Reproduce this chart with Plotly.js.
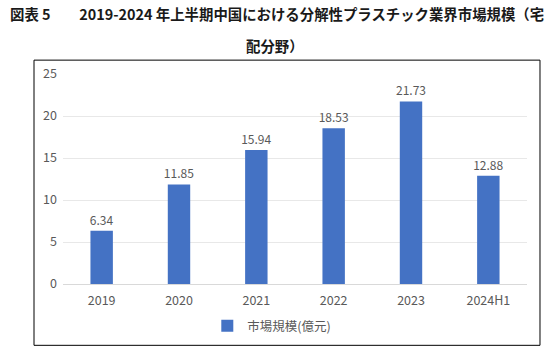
<!DOCTYPE html>
<html>
<head>
<meta charset="utf-8">
<script src="https://cdn.plot.ly/plotly-3.0.1.min.js"></script>
<style>html,body{margin:0;padding:0;background:#fff;}</style>
</head>
<body>
<div id="chart" style="width:559px;height:353px;"></div>
<script>
const categories = ["2019", "2020", "2021", "2022", "2023", "2024H1"];
const marketSize = [6.34, 11.85, 15.94, 18.53, 21.73, 12.88];
const seriesName = "市場規模(億元)";
const yTicks = [0, 5, 10, 15, 20, 25];

const font = "'Noto Sans CJK JP', 'Noto Sans', sans-serif";
const grey = "#595959";

const trace = {
  type: "bar",
  x: categories,
  y: marketSize,
  name: seriesName,
  marker: { color: "#4472C4" },
  width: 0.29,
  text: marketSize.map(v => v.toFixed(2)),
  textposition: "outside",
  constraintext: "none",
  textfont: { family: font, size: 12, color: grey },
  cliponaxis: false
};

const layout = {
  width: 559, height: 353,
  margin: { l: 63, r: 32, t: 74, b: 67 },
  paper_bgcolor: "#fff", plot_bgcolor: "#fff",
  font: { family: font, color: grey, size: 12 },
  showlegend: true,
  legend: {
    orientation: "h", x: 0.45, xanchor: "center", y: -0.2, yanchor: "middle",
    font: { family: font, size: 12.5, color: grey },
    itemwidth: 30
  },
  xaxis: {
    type: "category",
    tickfont: { family: font, size: 12.5, color: grey },
    showline: true, linecolor: "#D9D9D9", linewidth: 1,
    ticks: "", fixedrange: true,
    ticklabelstandoff: 5
  },
  yaxis: {
    range: [0, 25], tickvals: yTicks,
    tickfont: { family: font, size: 12.5, color: grey },
    gridcolor: "#E8E8E8", gridwidth: 1,
    zeroline: false, showline: false, ticks: "",
    ticklabelstandoff: 5
  },
  shapes: [{
    type: "rect", xref: "paper", yref: "paper",
    x0: -0.0625, x1: 1.028, y0: -0.292, y1: 1.066,
    line: { color: "#000", width: 1 }, fillcolor: "rgba(0,0,0,0)"
  }],
  annotations: [
    {
      xref: "paper", yref: "paper", x: (8 - 63) / 464, xanchor: "left",
      y: (286 - 13) / 212, yanchor: "middle",
      text: "<b>図表 5　　2019-2024 年上半期中国における分解性プラスチック業界市場規模（宅</b>",
      showarrow: false, font: { family: font, size: 14.4, color: "#1a1a1a" }
    },
    {
      xref: "paper", yref: "paper", x: (275 - 63) / 464, xanchor: "center",
      y: (286 - 45) / 212, yanchor: "middle",
      text: "<b>配分野）</b>",
      showarrow: false, font: { family: font, size: 14.4, color: "#1a1a1a" }
    }
  ]
};

Plotly.newPlot("chart", [trace], layout, { displayModeBar: false, staticPlot: true });
</script>
</body>
</html>
